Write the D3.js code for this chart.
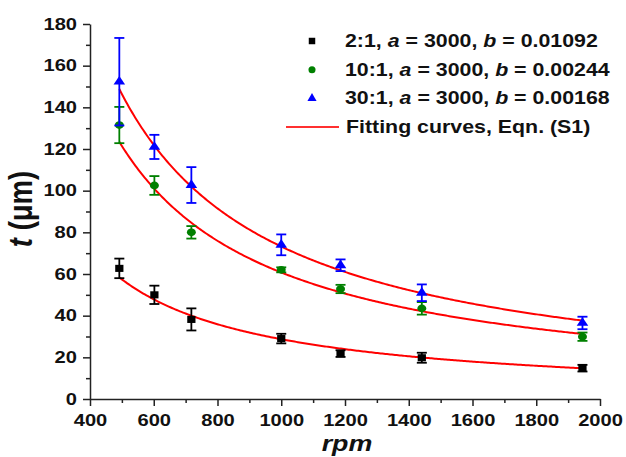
<!DOCTYPE html>
<head>
<meta charset="utf-8">
<style>
    body { margin: 0; background: #fff; }
    text { font-family: "Liberation Sans", Arial, sans-serif; font-weight: bold; fill: #111; }
    .axis path, .axis line { stroke: #222; stroke-width: 1.5px; }
    .curve { fill: none; stroke: #ff0000; stroke-width: 2px; }
</style>
<title>t vs rpm</title>
</head>
<body>
<script src="https://d3js.org/d3.v7.min.js"></script>
<script>
    // data
    const rpm = [492, 602, 718, 1000, 1186, 1441, 1945];
    const t21 = [62.7, 50.0, 38.2, 29.0, 21.8, 19.8, 14.8];
    const e21 = [4.7, 4.4, 5.3, 2.3, 1.6, 2.4, 1.6];
    const t101 = [131.5, 102.5, 80.0, 62.0, 52.8, 43.5, 29.9];
    const e101 = [8.7, 4.5, 3.0, 1.2, 2.0, 3.0, 2.0];
    const t301 = [152.3, 121.0, 102.7, 74.0, 64.2, 51.0, 36.5];
    const e301 = [21.0, 5.8, 8.6, 5.0, 2.8, 4.0, 3.0];

    // fit parameters from the legend, Eqn. (S1): t = a / (rpm * sqrt(b))
    const ratios = ['2:1', '10:1', '30:1'];
    const aVals = [3000, 3000, 3000];
    const bVals = [0.01092, 0.00244, 0.00168];
    const colors = ['#000000', '#008000', '#0000ff'];
    const shapes = [d3.symbolSquare, d3.symbolCircle, d3.symbolTriangle];
    const shapeSize = [56, 52, 48];

    const xTicks = [400, 600, 800, 1000, 1200, 1400, 1600, 1800, 2000];
    const yTicks = [0, 20, 40, 60, 80, 100, 120, 140, 160, 180];

    const series = [
        { t: t21, e: e21 },
        { t: t101, e: e101 },
        { t: t301, e: e301 },
    ];

    const W = 626, H = 457;
    const SX = 1.22; // horizontal stretch of the original picture

    const x = d3.scaleLinear().domain([400, 2000]).range([90, 600]);
    const y = d3.scaleLinear().domain([0, 180]).range([399, 24]);

    const svg = d3.select('body').append('svg')
        .attr('width', W)
        .attr('height', H);

    // minor ticks
    svg.append('g')
        .attr('class', 'axis')
        .attr('transform', 'translate(0,399)')
        .call(d3.axisBottom(x).tickValues(d3.range(500, 2000, 200)).tickSize(4).tickFormat(''))
        .select('.domain').remove();
    svg.append('g')
        .attr('class', 'axis')
        .attr('transform', 'translate(90,0)')
        .call(d3.axisLeft(y).tickValues(d3.range(10, 180, 20)).tickSize(4).tickFormat(''))
        .select('.domain').remove();

    // major ticks + labels
    const xAxis = svg.append('g')
        .attr('class', 'axis')
        .attr('transform', 'translate(0,399)')
        .call(d3.axisBottom(x).tickValues(xTicks).tickFormat(d3.format('d'))
            .tickSize(7).tickSizeOuter(0).tickPadding(8));
    xAxis.selectAll('text')
        .attr('font-size', 16.5)
        .attr('transform', `scale(${SX},1)`);

    const yAxis = svg.append('g')
        .attr('class', 'axis')
        .attr('transform', 'translate(90,0)')
        .call(d3.axisLeft(y).tickValues(yTicks).tickSize(7).tickSizeOuter(0));
    yAxis.selectAll('text')
        .attr('font-size', 16.5)
        .attr('x', -13 / SX)
        .attr('transform', `scale(${SX},1)`);
    svg.selectAll('.axis text').style('font-family', '"Liberation Sans", Arial, sans-serif').attr('fill', '#111');

    // axis titles
    svg.append('text')
        .attr('transform', `translate(347,451) scale(${SX},1)`)
        .attr('text-anchor', 'middle')
        .attr('font-size', 22)
        .attr('font-style', 'italic')
        .text('rpm');

    const yTitle = svg.append('text')
        .attr('transform', `translate(32,209) rotate(-90) scale(1,${SX})`)
        .attr('text-anchor', 'middle')
        .attr('font-size', 27.5);
    yTitle.append('tspan').attr('font-style', 'italic').text('t');
    yTitle.append('tspan').text(' (\u03bcm)');

    // fitted curves
    const line = d3.line().x(d => x(d[0])).y(d => y(d[1]));
    const rpmFit = d3.range(rpm[0], rpm[rpm.length - 1] + 1, 5);
    bVals.forEach((b, i) => {
        svg.append('path')
            .attr('class', 'curve')
            .attr('d', line(rpmFit.map(r => [r, aVals[i] / (r * Math.sqrt(b))])));
    });

    // error bars and markers
    series.forEach((s, i) => {
        const g = svg.append('g').attr('stroke', colors[i]).attr('fill', colors[i]);
        rpm.forEach((r, j) => {
            const cx = x(r);
            const top = y(s.t[j] + s.e[j]);
            const bot = y(s.t[j] - s.e[j]);
            g.append('line').attr('x1', cx).attr('x2', cx).attr('y1', top).attr('y2', bot).attr('stroke-width', 1.8);
            g.append('line').attr('x1', cx - 5).attr('x2', cx + 5).attr('y1', top).attr('y2', top).attr('stroke-width', 1.8);
            g.append('line').attr('x1', cx - 5).attr('x2', cx + 5).attr('y1', bot).attr('y2', bot).attr('stroke-width', 1.8);
            g.append('path')
                .attr('d', d3.symbol().type(shapes[i]).size(shapeSize[i])())
                .attr('stroke', 'none')
                .attr('transform', `translate(${cx},${y(s.t[j])}) scale(1.1,0.95)`);
        });
    });

    // legend
    const rowY = [41, 69.7, 98.3, 127];
    ratios.forEach((rt, i) => {
        svg.append('path')
            .attr('d', d3.symbol().type(shapes[i]).size(shapeSize[i] * 0.75)())
            .attr('fill', colors[i])
            .attr('transform', `translate(312,${rowY[i]})`);
        const tx = svg.append('text')
            .attr('transform', `translate(345,${rowY[i] + 6}) scale(${SX},1)`)
            .attr('font-size', 17.5);
        tx.append('tspan').text(`${rt}, `);
        tx.append('tspan').attr('font-style', 'italic').text('a');
        tx.append('tspan').text(` = ${aVals[i]}, `);
        tx.append('tspan').attr('font-style', 'italic').text('b');
        tx.append('tspan').text(` = ${bVals[i]}`);
    });
    svg.append('line')
        .attr('x1', 286).attr('x2', 339)
        .attr('y1', rowY[3]).attr('y2', rowY[3])
        .attr('stroke', '#ff3030').attr('stroke-width', 2);
    svg.append('text')
        .attr('transform', `translate(346,${rowY[3] + 6}) scale(${SX},1)`)
        .attr('font-size', 17.5)
        .text('Fitting curves, Eqn. (S1)');
</script>
</body>
